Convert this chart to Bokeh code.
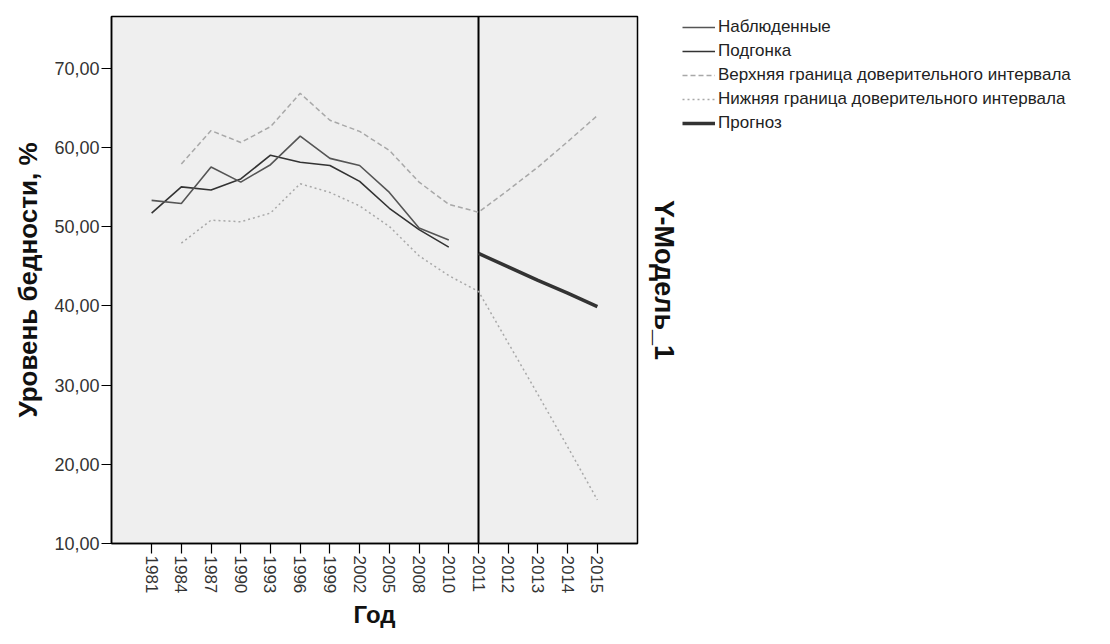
import math
from bokeh.plotting import figure
from bokeh.layouts import row
from bokeh.models import FactorRange, Range1d, FixedTicker, LinearAxis, Legend, LegendItem
from bokeh.embed import file_html
from bokeh.resources import INLINE

# ---- data ----
years = ["1981", "1984", "1987", "1990", "1993", "1996", "1999", "2002", "2005",
         "2008", "2010", "2011", "2012", "2013", "2014", "2015"]
obs_years = years[:11]
observed = [53.3, 52.9, 57.5, 55.6, 57.8, 61.4, 58.6, 57.7, 54.3, 49.8, 48.3]
fit = [51.7, 55.0, 54.6, 56.0, 59.0, 58.1, 57.7, 55.7, 52.3, 49.6, 47.4]
fc_years = years[11:]
forecast = [46.6, 44.9, 43.2, 41.6, 39.9]
ci_years = years[1:]
upper = [57.9, 62.1, 60.6, 62.6, 66.8, 63.4, 62.0, 59.6, 55.6, 52.8,
         51.8, 54.6, 57.5, 60.7, 64.0]
lower = [47.9, 50.8, 50.6, 51.7, 55.4, 54.3, 52.6, 50.0, 46.3, 43.8,
         41.8, 35.3, 28.8, 22.2, 15.5]
forecast_start = "2011"
y_min, y_max = 10, 76.5
y_ticks = [10, 20, 30, 40, 50, 60, 70]
y_tick_labels = ["10,00", "20,00", "30,00", "40,00", "50,00", "60,00", "70,00"]
series_labels = ["Наблюденные", "Подгонка", "Верхняя граница доверительного интервала",
                 "Нижняя граница доверительного интервала", "Прогноз"]

FONT = "Liberation Sans"

# series styles: observed, fit, upper, lower, forecast
styles = [
    dict(line_color="#555555", line_width=1.6),
    dict(line_color="#333333", line_width=1.6),
    dict(line_color="#a8a8a8", line_width=1.5, line_dash="5 3"),
    dict(line_color="#a8a8a8", line_width=1.5, line_dash="2 3"),
    dict(line_color="#333333", line_width=3.5),
]

p = figure(
    x_range=FactorRange(factors=years, range_padding=0.85, range_padding_units="absolute"),
    y_range=Range1d(y_min, y_max),
    frame_width=526, frame_height=527,
    min_border_left=111, min_border_right=0, min_border_top=16, min_border_bottom=85,
    output_backend="svg", toolbar_location=None,
)
p.xgrid.visible = False
p.ygrid.visible = False
p.background_fill_color = "#efefef"
p.border_fill_color = "white"
p.outline_line_color = "black"
p.outline_line_width = 1.5

# axes
p.yaxis.ticker = FixedTicker(ticks=y_ticks)
p.yaxis.major_label_overrides = dict(zip(y_ticks, y_tick_labels))
p.yaxis.axis_label = "Уровень бедности, %"
for ax in (p.xaxis[0], p.yaxis[0]):
    ax.axis_line_color = "black"
    ax.axis_line_width = 1.5
    ax.major_tick_line_color = "black"
    ax.major_tick_line_width = 1.2
    ax.major_tick_in = 0
    ax.minor_tick_line_color = None
    ax.major_label_text_font = FONT
    ax.major_label_text_color = "#333333"
    ax.axis_label_text_font = FONT
    ax.axis_label_text_font_style = "bold"
    ax.axis_label_text_color = "#111111"
p.yaxis.major_label_text_font_size = "18px"
p.yaxis.major_tick_out = 10
p.yaxis.major_label_standoff = 2
p.yaxis.axis_label_text_font_size = "26px"
p.yaxis.axis_label_standoff = 8
p.xaxis.major_label_text_font_size = "17px"
p.xaxis.major_tick_out = 10
p.xaxis.major_label_standoff = 2
p.xaxis.major_label_orientation = -math.pi / 2
p.xaxis.axis_label = "Год"
p.xaxis.axis_label_text_font_size = "24px"
p.xaxis.axis_label_standoff = 5

ra = LinearAxis(ticker=FixedTicker(ticks=[]), axis_label="Y-Модель_1",
                axis_line_color=None, major_tick_line_color=None, minor_tick_line_color=None,
                axis_label_text_font=FONT, axis_label_text_font_style="bold",
                axis_label_text_font_size="27px", axis_label_text_color="#111111",
                axis_label_standoff=11)
p.add_layout(ra, "right")

# forecast start reference line
p.segment(x0=[forecast_start], x1=[forecast_start], y0=[y_min], y1=[y_max],
          line_color="black", line_width=2)

series = [(obs_years, observed), (obs_years, fit), (ci_years, upper),
          (ci_years, lower), (fc_years, forecast)]
for (xs, ys), st in zip([series[2], series[3], series[1], series[0], series[4]],
                        [styles[2], styles[3], styles[1], styles[0], styles[4]]):
    p.line(xs, ys, **st)

# legend panel (separate canvas to the right of the chart); the series are
# re-used here only as legend keys and fall outside this canvas's range
lg = figure(width=412, height=628, x_range=Range1d(0, 1), y_range=Range1d(0, 1),
            x_axis_type=None, y_axis_type=None, output_backend="svg", toolbar_location=None,
            min_border_left=0, min_border_top=16, min_border_right=0, min_border_bottom=0)
lg.outline_line_color = None
lg.background_fill_color = "white"
lg.border_fill_color = "white"
items = []
for lab, st, (xs, ys) in zip(series_labels, styles, series):
    r = lg.line(x=list(range(len(ys))), y=ys, **st)
    items.append(LegendItem(label=lab, renderers=[r]))
legend = Legend(items=items, location=(1, 407), border_line_color=None,
                background_fill_alpha=0, padding=0, margin=0, spacing=4,
                glyph_width=33, glyph_height=20, label_standoff=3,
                label_text_font=FONT, label_text_font_size="17px", label_text_color="#222222")
lg.add_layout(legend)

open("out.html", "w").write(file_html(row(p, lg), INLINE))
